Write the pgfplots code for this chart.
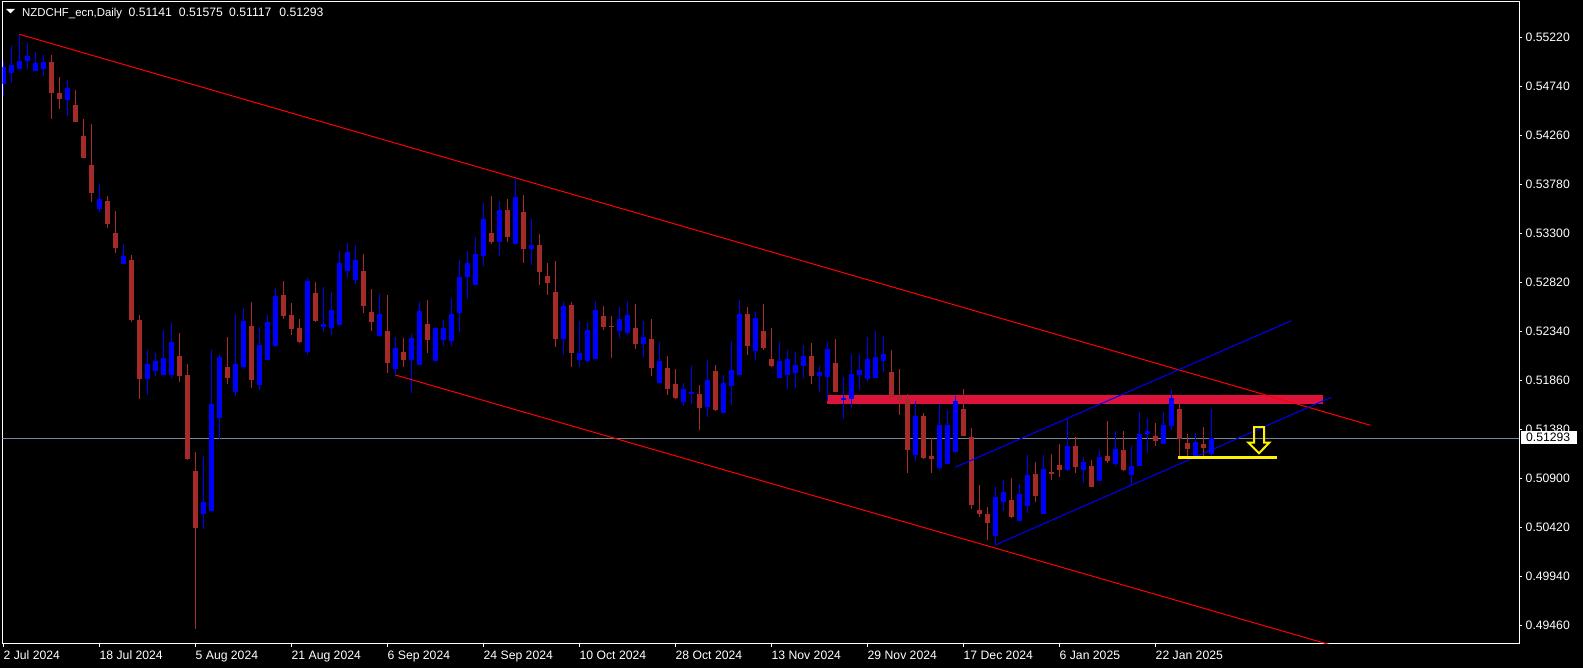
\documentclass[border=0pt]{standalone}
\usepackage{fontspec}
\setmainfont{Liberation Sans}
\usepackage{pgfplots}
\usepackage{pgfplotstable}
\pgfplotsset{compat=1.18}

\definecolor{bullc}{HTML}{0000FF}
\definecolor{bearc}{HTML}{A52A2A}
\definecolor{zone}{HTML}{DC143C}
\definecolor{bidline}{HTML}{778899}

% daily bars: index, open, high, low, close
\pgfplotstableread{
x o h l c
0 0.54764 0.54989 0.54646 0.54930
1 0.54872 0.55136 0.54774 0.54950
2 0.54911 0.55254 0.54911 0.54989
3 0.54989 0.55166 0.54911 0.55038
4 0.54891 0.55077 0.54891 0.54970
5 0.54911 0.55048 0.54842 0.54979
8 0.54607 0.54803 0.54450 0.54725
12 0.53539 0.53784 0.53509 0.53637
15 0.53000 0.53196 0.53000 0.53078
18 0.51873 0.52157 0.51716 0.52020
19 0.51951 0.52128 0.51902 0.52049
20 0.51912 0.52353 0.51912 0.52079
21 0.51912 0.52422 0.51883 0.52235
25 0.50550 0.51118 0.50403 0.50667
26 0.50579 0.52157 0.50579 0.51628
27 0.51491 0.52108 0.51285 0.52088
29 0.51745 0.52510 0.51706 0.52020
30 0.51990 0.52569 0.51971 0.52441
32 0.51814 0.52382 0.51765 0.52206
33 0.52059 0.52500 0.52059 0.52431
34 0.52196 0.52765 0.52186 0.52686
38 0.52137 0.52863 0.52108 0.52833
40 0.52382 0.52774 0.52333 0.52412
41 0.52373 0.52725 0.52304 0.52549
42 0.52402 0.53127 0.52402 0.53010
43 0.52931 0.53206 0.52863 0.53117
44 0.52843 0.53186 0.52804 0.53039
47 0.52294 0.52706 0.52284 0.52510
49 0.51971 0.52284 0.51912 0.52177
51 0.52059 0.52314 0.51736 0.52275
52 0.52010 0.52627 0.52010 0.52539
54 0.52049 0.52382 0.52049 0.52373
55 0.52255 0.52451 0.52196 0.52373
56 0.52245 0.52667 0.52196 0.52510
57 0.52520 0.53039 0.52333 0.52872
58 0.52872 0.53127 0.52657 0.53010
59 0.52794 0.53264 0.52794 0.53098
60 0.53078 0.53598 0.52980 0.53441
62 0.53215 0.53617 0.53078 0.53529
64 0.53196 0.53833 0.53196 0.53656
66 0.53147 0.53441 0.52990 0.53186
70 0.52265 0.52627 0.52108 0.52588
72 0.52059 0.52441 0.51990 0.52128
73 0.52049 0.52431 0.52030 0.52353
74 0.52069 0.52637 0.52069 0.52549
77 0.52343 0.52578 0.52275 0.52461
78 0.52324 0.52637 0.52304 0.52500
80 0.52216 0.52441 0.52088 0.52284
82 0.51834 0.52235 0.51834 0.52049
85 0.51647 0.51834 0.51608 0.51775
86 0.51726 0.52000 0.51628 0.51745
88 0.51598 0.52059 0.51500 0.51863
90 0.51540 0.51912 0.51540 0.51834
91 0.51804 0.52245 0.51618 0.51961
92 0.51912 0.52647 0.51912 0.52510
94 0.52147 0.52529 0.52059 0.52471
97 0.51883 0.52235 0.51883 0.52049
98 0.51912 0.52157 0.51775 0.52069
99 0.51932 0.52137 0.51785 0.52010
100 0.52000 0.52206 0.51883 0.52098
102 0.51902 0.52000 0.51745 0.51941
103 0.51892 0.52235 0.51657 0.52167
105 0.51667 0.51892 0.51481 0.51687
106 0.51677 0.52118 0.51589 0.51922
107 0.51912 0.52118 0.51765 0.51961
108 0.51873 0.52284 0.51853 0.52069
109 0.51883 0.52343 0.51883 0.52088
110 0.52049 0.52294 0.51941 0.52118
114 0.51128 0.51657 0.51069 0.51510
117 0.51001 0.51628 0.50981 0.51422
118 0.51040 0.51569 0.51040 0.51422
119 0.51157 0.51706 0.51148 0.51657
124 0.50334 0.50814 0.50246 0.50716
125 0.50667 0.50883 0.50579 0.50765
127 0.50481 0.50844 0.50481 0.50746
128 0.50628 0.51128 0.50560 0.50932
130 0.50550 0.51128 0.50550 0.50991
133 0.50981 0.51481 0.50971 0.51216
135 0.50981 0.51108 0.50854 0.51059
137 0.50873 0.51177 0.50873 0.51108
139 0.51040 0.51363 0.51020 0.51187
141 0.50932 0.51216 0.50834 0.51020
142 0.51020 0.51549 0.51020 0.51334
143 0.51334 0.51491 0.51148 0.51363
145 0.51236 0.51549 0.51236 0.51422
146 0.51412 0.51775 0.51373 0.51687
149 0.51118 0.51344 0.51118 0.51255
151 0.51141 0.51575 0.51117 0.51293
}\bull

\pgfplotstableread{
x o h l c
6 0.54979 0.55048 0.54421 0.54676
7 0.54676 0.54832 0.54519 0.54617
9 0.54558 0.54705 0.54391 0.54391
10 0.54254 0.54421 0.54039 0.54039
11 0.53970 0.54372 0.53607 0.53696
13 0.53617 0.53666 0.53353 0.53392
14 0.53304 0.53519 0.53108 0.53157
16 0.53039 0.53088 0.52431 0.52451
17 0.52451 0.52500 0.51677 0.51873
22 0.52098 0.52324 0.51843 0.51902
23 0.51912 0.52020 0.51079 0.51089
24 0.50971 0.51157 0.49423 0.50413
28 0.51990 0.52284 0.51824 0.51883
31 0.52392 0.52627 0.51785 0.51863
35 0.52696 0.52833 0.52461 0.52490
36 0.52500 0.52618 0.52304 0.52363
37 0.52373 0.52461 0.52226 0.52235
39 0.52716 0.52823 0.52431 0.52441
45 0.52931 0.53098 0.52520 0.52588
46 0.52529 0.52755 0.52343 0.52431
48 0.52343 0.52696 0.51932 0.52030
50 0.52137 0.52275 0.51990 0.52059
53 0.52412 0.52647 0.52128 0.52255
61 0.53304 0.53666 0.53196 0.53215
63 0.53529 0.53637 0.53215 0.53264
65 0.53509 0.53676 0.53010 0.53147
67 0.53186 0.53294 0.52794 0.52921
68 0.52882 0.53010 0.52696 0.52814
69 0.52725 0.53029 0.52186 0.52265
71 0.52598 0.52627 0.51990 0.52128
75 0.52490 0.52588 0.52353 0.52382
76 0.52392 0.52490 0.52079 0.52382
79 0.52373 0.52608 0.52167 0.52216
81 0.52265 0.52461 0.51902 0.51981
83 0.51981 0.52098 0.51716 0.51775
84 0.51824 0.51971 0.51677 0.51687
87 0.51726 0.51814 0.51373 0.51589
89 0.51951 0.52010 0.51559 0.51569
93 0.52510 0.52578 0.52108 0.52196
95 0.52343 0.52608 0.52157 0.52177
96 0.52069 0.52373 0.51990 0.52000
101 0.52098 0.52226 0.51824 0.51902
104 0.52030 0.52265 0.51745 0.51745
111 0.51941 0.52157 0.51687 0.51696
112 0.51706 0.51971 0.51520 0.51667
113 0.51677 0.51726 0.50952 0.51177
115 0.51510 0.51540 0.51089 0.51099
116 0.51118 0.51295 0.50952 0.51089
120 0.51579 0.51775 0.51314 0.51314
121 0.51304 0.51393 0.50599 0.50638
122 0.50589 0.50834 0.50520 0.50550
123 0.50550 0.50618 0.50295 0.50462
126 0.50687 0.50903 0.50511 0.50520
129 0.50942 0.51059 0.50667 0.50726
131 0.50961 0.51138 0.50883 0.50942
132 0.51030 0.51236 0.50912 0.50981
134 0.51216 0.51304 0.50952 0.51010
136 0.51020 0.51079 0.50814 0.50814
138 0.51118 0.51461 0.51050 0.51069
140 0.51177 0.51363 0.50971 0.50981
144 0.51314 0.51442 0.51216 0.51265
147 0.51579 0.51657 0.51118 0.51285
148 0.51246 0.51334 0.51118 0.51187
150 0.51236 0.51402 0.51118 0.51197
}\bear

\newcommand{\mtfont}{\fontsize{6.1}{7}\selectfont}

\begin{document}
\begin{tikzpicture}[x=0.5pt,y=0.5pt]
\fill[black] (0,0) rectangle (1583,668);
\begin{axis}[
    at={(1.25pt,12pt)}, anchor=south west,
    scale only axis, width=758.4pt, height=321pt,
    xmin=-0.1, xmax=189.5,
    ymin=0.492758, ymax=0.555674,
    axis line style={white, line width=0.5pt},
    xtick={0,12,...,144},
    xticklabels={2 Jul 2024,18 Jul 2024,5 Aug 2024,21 Aug 2024,6 Sep 2024,24 Sep 2024,10 Oct 2024,28 Oct 2024,13 Nov 2024,29 Nov 2024,17 Dec 2024,6 Jan 2025,22 Jan 2025},
    ytick={0.4946,0.4994,0.5042,0.509,0.5138,0.5186,0.5234,0.5282,0.533,0.5378,0.5426,0.5474,0.5522},
    yticklabels={0.49460,0.49940,0.50420,0.50900,0.51380,0.51860,0.52340,0.52820,0.53300,0.53780,0.54260,0.54740,0.55220},
    xtick pos=left, ytick pos=right, yticklabel pos=right,
    tick align=outside, major tick length=1.5pt,
    tick style={white, line width=0.5pt},
    tick label style={white, font=\mtfont},
    xticklabel style={anchor=north west, inner sep=0pt, yshift=-1.75pt},
    yticklabel style={anchor=west, inner sep=0pt, xshift=1.5pt},
    clip=true,
    candle/.style={draw=none, fill=none, mark=none, forget plot,
        error bars/y dir=plus, error bars/y explicit, error bars/error mark=none},
]
% support zone
\addplot[fill=zone, draw=none] coordinates {(102.96,0.51631) (164.9,0.51631) (164.9,0.51713) (102.96,0.51713)} -- cycle;
% bid line
\addplot[bidline, line width=0.5pt] coordinates {(-0.1,0.51293) (189.5,0.51293)};

% wicks
\addplot[candle, error bars/error bar style={draw=bullc, line width=0.5pt}]
    table[x=x, y=l, y error plus expr=\thisrow{h}-\thisrow{l}] {\bull};
\addplot[candle, error bars/error bar style={draw=bearc, line width=0.5pt}]
    table[x=x, y=l, y error plus expr=\thisrow{h}-\thisrow{l}] {\bear};
% bodies
\addplot[candle, error bars/error bar style={draw=bullc, line width=2.5pt}]
    table[x=x, y=o, y error plus expr=\thisrow{c}-\thisrow{o}] {\bull};
\addplot[candle, error bars/error bar style={draw=bearc, line width=2.5pt}]
    table[x=x, y=c, y error plus expr=\thisrow{o}-\thisrow{c}] {\bear};

% trend channel lines
\addplot[red, line width=0.5pt] coordinates {(2.0,0.55251) (170.9,0.51419)};
\addplot[red, line width=0.5pt] coordinates {(49,0.51912) (166,0.49265)};
\addplot[blue, line width=0.5pt] coordinates {(124,0.50246) (166,0.51694)};
\addplot[blue, line width=0.5pt] coordinates {(119,0.51008) (161,0.52444)};
% yellow level and arrow
\addplot[yellow, line width=1.5pt] coordinates {(146.8,0.51108) (159.2,0.51108)};
\addplot[yellow, line width=1pt, line join=miter] coordinates {(156.34,0.51400) (157.59,0.51400) (157.59,0.51249) (158.25,0.51249) (156.96,0.51145) (155.63,0.51249) (156.34,0.51249)} -- cycle;
\end{axis}

% header
\fill[white] (6,659) -- (15,659) -- (10.5,654.5) -- cycle;
\node[anchor=base west, inner sep=0pt, white, font=\fontsize{5.7}{7}\selectfont] at (21.7,651.3) {NZDCHF\_ecn,Daily};
\node[anchor=base west, inner sep=0pt, white, font=\mtfont] at (128.3,651.3) {0.51141};
\node[anchor=base west, inner sep=0pt, white, font=\mtfont] at (178.5,651.3) {0.51575};
\node[anchor=base west, inner sep=0pt, white, font=\mtfont] at (228.8,651.3) {0.51117};
\node[anchor=base west, inner sep=0pt, white, font=\mtfont] at (279,651.3) {0.51293};
% bid price label
\fill[white] (1521,223.7) rectangle (1577,237);
\node[anchor=west, inner sep=0pt, black, font=\mtfont] at (1525.7,230.3) {0.51293};

\pgfresetboundingbox
\useasboundingbox (0,0) rectangle (1583,668);
\end{tikzpicture}
\end{document}
